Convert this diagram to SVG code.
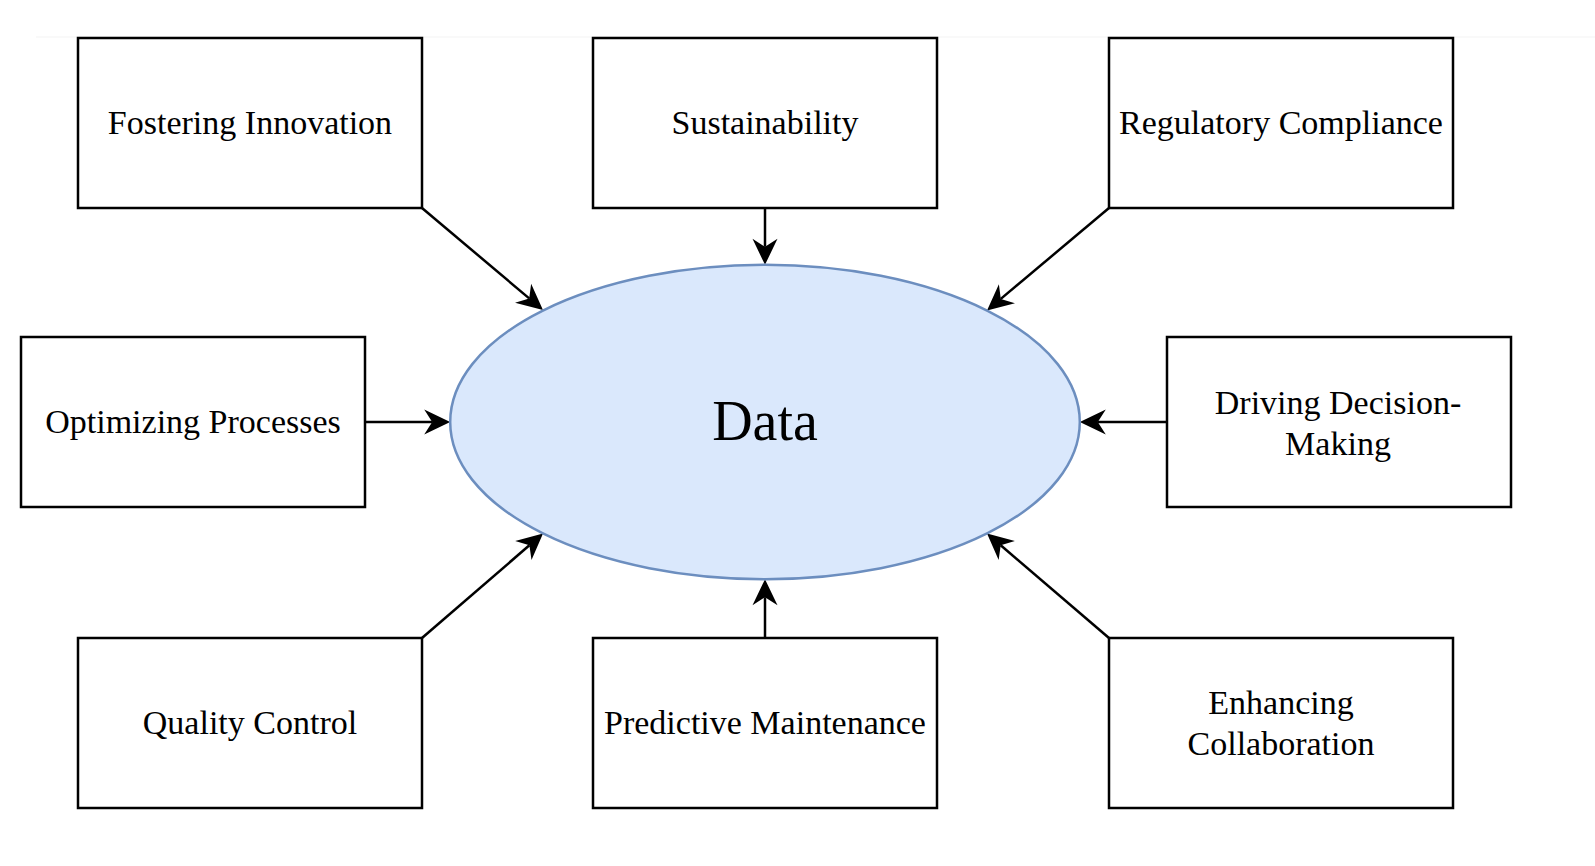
<svg xmlns="http://www.w3.org/2000/svg" width="1595" height="866" viewBox="0 0 1595 866">
<style>
.box{fill:#ffffff;stroke:#000000;stroke-width:2.5}
.lbl{font-family:"Liberation Serif","Times New Roman",serif;font-size:34px;fill:#000000;text-anchor:middle}
.con{fill:none;stroke:#000000;stroke-width:2.5}
</style>
<defs>
<marker id="arr" markerUnits="userSpaceOnUse" markerWidth="30" markerHeight="28" viewBox="-10 -14 30 28" refX="0" refY="0" orient="auto">
<path d="M18,0 L-8,-12.5 L0,0 L-8,12.5 Z" fill="#000000"/>
</marker>
</defs>
<rect x="0" y="0" width="1595" height="866" fill="#ffffff"/>
<line x1="36" y1="37" x2="1595" y2="37" stroke="#f3f3f3" stroke-width="1"/>
<g id="connectors">
<path class="con" d="M422,208 L529.2,298.4" marker-end="url(#arr)"/>
<path class="con" d="M765,208 L765,246.8" marker-end="url(#arr)"/>
<path class="con" d="M1109,208 L1000.8,298.9" marker-end="url(#arr)"/>
<path class="con" d="M365,422 L432.2,422" marker-end="url(#arr)"/>
<path class="con" d="M1167,422 L1097.8,422" marker-end="url(#arr)"/>
<path class="con" d="M422,638 L529.4,545.3" marker-end="url(#arr)"/>
<path class="con" d="M765,638 L765,597.2" marker-end="url(#arr)"/>
<path class="con" d="M1109,638 L1000.7,545.3" marker-end="url(#arr)"/>
</g>
<g id="data">
<ellipse cx="765" cy="422" rx="314.8" ry="157.2" fill="#dae8fc" stroke="#6c8ebf" stroke-width="2.5"/>
<text x="765" y="440" class="lbl" style="font-size:56px">Data</text>
</g>
<g id="fostering-innovation">
<rect class="box" x="78" y="38" width="344" height="170"/>
<text class="lbl" x="250" y="134">Fostering Innovation</text>
</g>
<g id="sustainability">
<rect class="box" x="593" y="38" width="344" height="170"/>
<text class="lbl" x="765" y="134">Sustainability</text>
</g>
<g id="regulatory-compliance">
<rect class="box" x="1109" y="38" width="344" height="170"/>
<text class="lbl" x="1281" y="134">Regulatory Compliance</text>
</g>
<g id="optimizing-processes">
<rect class="box" x="21" y="337" width="344" height="170"/>
<text class="lbl" x="193" y="433">Optimizing Processes</text>
</g>
<g id="driving-decision-making">
<rect class="box" x="1167" y="337" width="344" height="170"/>
<text class="lbl" x="1338" y="414">Driving Decision-</text>
<text class="lbl" x="1338" y="455">Making</text>
</g>
<g id="quality-control">
<rect class="box" x="78" y="638" width="344" height="170"/>
<text class="lbl" x="250" y="734">Quality Control</text>
</g>
<g id="predictive-maintenance">
<rect class="box" x="593" y="638" width="344" height="170"/>
<text class="lbl" x="765" y="734">Predictive Maintenance</text>
</g>
<g id="enhancing-collaboration">
<rect class="box" x="1109" y="638" width="344" height="170"/>
<text class="lbl" x="1281" y="714">Enhancing</text>
<text class="lbl" x="1281" y="755">Collaboration</text>
</g>
</svg>
